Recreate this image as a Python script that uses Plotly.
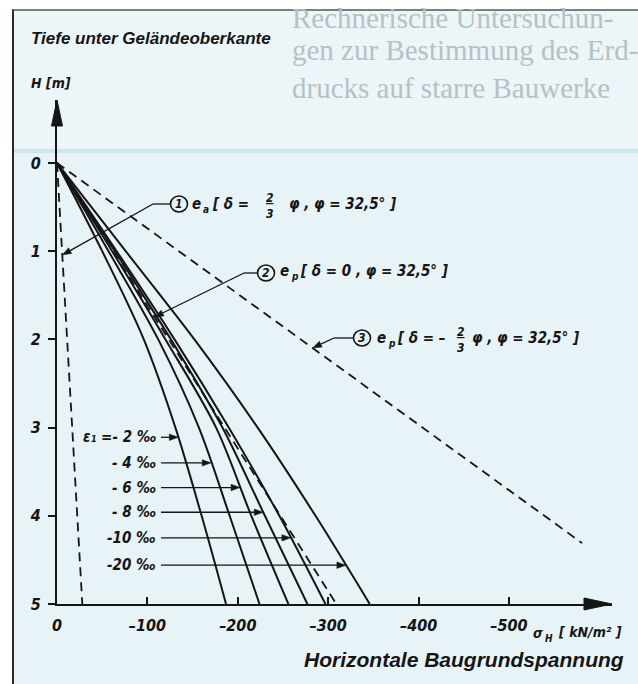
import numpy as np
import plotly.graph_objects as go

# ---------------- data ----------------
depth = [0, 1, 2, 3, 4, 5]  # H [m]

strain_labels = ["ε₁ =- 2 ‰", "- 4 ‰", "- 6 ‰", "- 8 ‰", "-10 ‰", "-20 ‰"]
sigma_eps_2 = [0, -50, -96, -131, -160, -187]
sigma_eps_4 = [0, -57, -112, -157, -191, -224]
sigma_eps_6 = [0, -61, -120, -176, -215, -256]
sigma_eps_8 = [0, -64, -126, -183, -230, -277]
sigma_eps_10 = [0, -66, -130, -190, -246, -297]
sigma_eps_20 = [0, -76, -152, -222, -286, -346]
strain_label_depth = [3.11, 3.40, 3.68, 3.96, 4.25, 4.56]

# classical earth pressure lines
ea_depth, ea_sigma = [0, 5], [0, -28]          # (1) active, delta = 2/3 phi
ep0_depth, ep0_sigma = [0, 5], [0, -309]       # (2) passive, delta = 0
ep3_depth, ep3_sigma = [0, 4.31], [0, -581]    # (3) passive, delta = -2/3 phi

x_tickvals = [0, -100, -200, -300, -400, -500]
x_ticktext = ["0", "–100", "–200", "–300", "–400", "–500"]
y_tickvals = [0, 1, 2, 3, 4, 5]
y_ticktext = ["0", "1", "2", "3", "4", "5"]

# page heading printed behind the figure box
heading_lines = ["Rechnerische Untersuchun-", "gen zur Bestimmung des Erd-", "drucks auf starre Bauwerke"]

# ---------------- geometry ----------------
W, H = 638, 684
ML, MR, MT, MB = 57, 26, 100, 80
X_RANGE = [0, -614]
Y_RANGE = [5, -0.714]
PW, PH = W - ML - MR, H - MT - MB


def px_of(xv):
    return ML + (xv - X_RANGE[0]) / (X_RANGE[1] - X_RANGE[0]) * PW


def py_of(yv):
    return MT + (yv - Y_RANGE[1]) / (Y_RANGE[0] - Y_RANGE[1]) * PH


def data_y(p):
    return Y_RANGE[1] + (p - MT) / PH * (Y_RANGE[0] - Y_RANGE[1])


def paper_x(p):
    return (p - ML) / PW


def paper_y(p):
    return (H - MB - p) / PH


INK = "#151515"
BG = "#e7f3f6"
FAINT = "#b6c1c5"
COND = "Liberation Sans Narrow, DejaVu Sans Condensed, Arial Narrow, Liberation Sans, Arial, sans-serif"
SANS = "Liberation Sans, Arial, Helvetica, sans-serif"
SERIF = "Liberation Serif, Times New Roman, DejaVu Serif, serif"
NB = "\u00a0"

fig = go.Figure()

# mobilised earth pressure for different wall strains
for sig in [sigma_eps_2, sigma_eps_4, sigma_eps_6, sigma_eps_8, sigma_eps_10, sigma_eps_20]:
    fig.add_trace(go.Scatter(
        x=sig, y=depth, mode="lines",
        line=dict(color=INK, width=2, shape="spline", smoothing=0.9),
        hoverinfo="skip", showlegend=False))

# classical earth pressure lines (dashed)
for xs, ys in [(ea_sigma, ea_depth), (ep0_sigma, ep0_depth), (ep3_sigma, ep3_depth)]:
    fig.add_trace(go.Scatter(
        x=xs, y=ys, mode="lines",
        line=dict(color=INK, width=1.8, dash="9px,6px"),
        hoverinfo="skip", showlegend=False))

shapes = []
annotations = []

# page box, frame and rule
shapes.append(dict(type="rect", xref="paper", yref="paper", layer="below",
                   x0=paper_x(13), x1=paper_x(W + 5), y0=paper_y(10), y1=paper_y(H + 5),
                   fillcolor=BG, line=dict(width=0)))
shapes.append(dict(type="rect", xref="paper", yref="paper", layer="below",
                   x0=paper_x(13), x1=paper_x(W + 5), y0=paper_y(10), y1=paper_y(150),
                   fillcolor="#ecf6f8", line=dict(width=0)))
shapes.append(dict(type="line", xref="paper", yref="paper", layer="below",
                   x0=paper_x(14), x1=paper_x(W + 5), y0=paper_y(151), y1=paper_y(151),
                   line=dict(color="#cfe5eb", width=4)))
shapes.append(dict(type="line", xref="paper", yref="paper",
                   x0=paper_x(13), x1=paper_x(13), y0=paper_y(9), y1=paper_y(H + 5),
                   line=dict(color="#2a2a2a", width=2)))
shapes.append(dict(type="line", xref="paper", yref="paper",
                   x0=paper_x(12), x1=paper_x(W + 5), y0=paper_y(10), y1=paper_y(10),
                   line=dict(color="#555555", width=1.5)))

# faint page heading
for i, s in enumerate(heading_lines):
    annotations.append(dict(x=paper_x(290), y=paper_y(18 if i == 0 else 12 + 38 * i),
                            xref="paper", yref="paper", text=s, showarrow=False,
                            xanchor="left", yanchor="middle",
                            font=dict(family=SERIF, size=29, color=FAINT)))

# axis arrowheads
x0p = px_of(0)
y5p = py_of(5)
shapes.append(dict(type="path", xref="paper", yref="paper",
                   path=f"M {paper_x(x0p)} {paper_y(MT)} L {paper_x(x0p - 5.5)} {paper_y(MT + 26)} "
                        f"L {paper_x(x0p + 5.5)} {paper_y(MT + 26)} Z",
                   fillcolor=INK, line=dict(color=INK, width=1)))
shapes.append(dict(type="path", xref="paper", yref="paper",
                   path=f"M {paper_x(ML + PW)} {paper_y(y5p)} L {paper_x(ML + PW - 28)} {paper_y(y5p - 6)} "
                        f"L {paper_x(ML + PW - 28)} {paper_y(y5p + 6)} Z",
                   fillcolor=INK, line=dict(color=INK, width=1)))
# x-axis stub left of the origin
shapes.append(dict(type="line", xref="paper", yref="paper",
                   x0=paper_x(x0p - 6), x1=paper_x(x0p), y0=paper_y(y5p), y1=paper_y(y5p),
                   line=dict(color=INK, width=2)))


def arrow_px(sx, sy, tx, ty, head=9.0, half=3.2, width=1.3):
    """Straight arrow in pixel coordinates, drawn as a line plus a filled head."""
    dx, dy = tx - sx, ty - sy
    n = (dx * dx + dy * dy) ** 0.5
    ux, uy = dx / n, dy / n
    bx, by = tx - head * ux, ty - head * uy
    nx, ny = -uy, ux
    shapes.append(dict(type="line", xref="paper", yref="paper",
                       x0=paper_x(sx), y0=paper_y(sy), x1=paper_x(bx), y1=paper_y(by),
                       line=dict(color=INK, width=width)))
    shapes.append(dict(type="path", xref="paper", yref="paper",
                       path=f"M {paper_x(tx)} {paper_y(ty)} "
                            f"L {paper_x(bx + half * nx)} {paper_y(by + half * ny)} "
                            f"L {paper_x(bx - half * nx)} {paper_y(by - half * ny)} Z",
                       fillcolor=INK, line=dict(color=INK, width=0.5)))


def text_at(x, y, s, size=15, anchor="left", family=COND):
    annotations.append(dict(x=paper_x(x), y=paper_y(y), xref="paper", yref="paper",
                            text=f"<b><i>{s}</i></b>", showarrow=False,
                            xanchor=anchor, yanchor="middle",
                            font=dict(family=family, size=size, color=INK)))


# strain labels with arrows onto the curves
strain_series = [sigma_eps_2, sigma_eps_4, sigma_eps_6, sigma_eps_8, sigma_eps_10, sigma_eps_20]
for lbl, d, sig in zip(strain_labels, strain_label_depth, strain_series):
    tip = float(np.interp(d, depth, sig))
    yy = py_of(d)
    arrow_px(161, yy, px_of(tip), yy)
    text_at(158, yy, lbl, anchor="right")


def circled(cx, cy, num):
    shapes.append(dict(type="circle", xref="paper", yref="paper",
                       x0=paper_x(cx - 8.5), x1=paper_x(cx + 8.5),
                       y0=paper_y(cy + 8), y1=paper_y(cy - 8),
                       line=dict(color=INK, width=1.6)))
    text_at(cx, cy, str(num), size=12, anchor="center")


def leader(cx_left, cy, bend_x, d_tip, xs, ys):
    tip = float(np.interp(d_tip, ys, xs))
    shapes.append(dict(type="line", xref="paper", yref="paper",
                       x0=paper_x(cx_left), x1=paper_x(bend_x), y0=paper_y(cy), y1=paper_y(cy),
                       line=dict(color=INK, width=1.3)))
    arrow_px(bend_x, cy, px_of(tip), py_of(d_tip))


# (1) active earth pressure
circled(179, 204, 1)
text_at(190, 204, "e")
text_at(201, 209, "a", size=10)
text_at(210, 204, f"[{NB}δ{NB}=")
text_at(270, 206, "<u>2</u><br>3", size=12, anchor="center")
text_at(287, 204, f"φ{NB}, φ = 32,5°{NB}]")
leader(170, 204, 153, data_y(255), ea_sigma, ea_depth)

# (2) passive earth pressure, delta = 0
circled(266, 273, 2)
text_at(278, 271, "e")
text_at(289, 276, "p", size=10)
text_at(298, 271, f"[{NB}δ = 0 , φ = 32,5°{NB}]")
leader(257, 273, 244, data_y(317), ep0_sigma, ep0_depth)

# (3) passive earth pressure, delta = -2/3 phi
circled(362, 338, 3)
text_at(375, 338, "e")
text_at(386, 343, "p", size=10)
text_at(395, 338, f"[{NB}δ = –")
text_at(461, 340, "<u>2</u><br>3", size=12, anchor="center")
text_at(470, 338, f"φ{NB}, φ = 32,5°{NB}]")
leader(353, 338, 334, data_y(348), ep3_sigma, ep3_depth)

# titles
text_at(29, 39, "Tiefe unter Geländeoberkante", size=17, family=SANS)
text_at(29, 83, "H [m]", size=14)
text_at(626, 659, "Horizontale Baugrundspannung", size=21, anchor="right", family=SANS)
text_at(531, 633, "σ", size=14)
text_at(543, 638, "H", size=10)
text_at(556, 632, f"[{NB}kN/m²{NB}]", size=14)

fig.update_layout(
    width=W, height=H, autosize=False,
    margin=dict(l=ML, r=MR, t=MT, b=MB, pad=0),
    paper_bgcolor="white", plot_bgcolor="rgba(0,0,0,0)",
    showlegend=False,
    shapes=shapes, annotations=annotations,
    xaxis=dict(range=X_RANGE, showgrid=False, zeroline=False, showline=True,
               linecolor=INK, linewidth=2, ticks="inside", ticklen=7, tickwidth=1.5,
               tickcolor=INK, tickvals=x_tickvals, ticktext=x_ticktext,
               ticklabelstandoff=6,
               tickfont=dict(family=COND, size=16, color=INK, weight="bold", style="italic")),
    yaxis=dict(range=Y_RANGE, showgrid=False, zeroline=False, showline=True,
               linecolor=INK, linewidth=2, ticks="outside", ticklen=7, tickwidth=1.5,
               tickcolor=INK, tickvals=y_tickvals, ticktext=y_ticktext,
               ticklabelstandoff=4,
               tickfont=dict(family=COND, size=16, color=INK, weight="bold", style="italic")),
)

fig.write_html("out.html")
